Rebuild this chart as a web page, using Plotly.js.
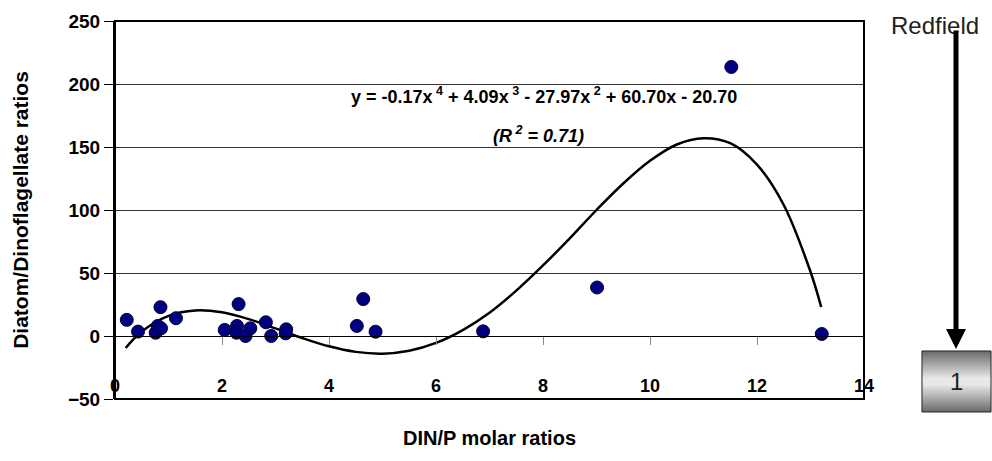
<!DOCTYPE html>
<html>
<head>
<meta charset="utf-8">
<script src="https://cdn.plot.ly/plotly-3.0.1.min.js"></script>
<style>html,body{margin:0;padding:0;background:#fff;}#chart{width:992px;height:461px;}</style>
</head>
<body>
<div id="chart"></div>
<script>
// Observed samples
const dinP = [0.22, 0.43, 0.76, 0.80, 0.86, 0.85, 1.14, 2.05, 2.31, 2.28, 2.27, 2.44, 2.53, 2.82, 2.92, 3.20, 3.19, 4.52, 4.64, 4.87, 6.88, 9.01, 11.52, 13.21];
const diatomDino = [12.8, 3.5, 2.6, 8.0, 6.1, 22.9, 14.1, 4.8, 25.3, 8.0, 2.6, 0.0, 6.1, 10.9, 0.0, 5.3, 2.1, 8.0, 29.3, 3.4, 3.7, 38.5, 213.5, 1.6];

// Polynomial trend line
const trendX = [0.2, 0.5, 1.0, 1.5, 2.0, 2.5, 3.0, 3.5, 4.0, 4.5, 5.0, 5.5, 6.0, 6.5, 7.0, 7.5, 8.0, 8.5, 9.0, 9.5, 10.0, 10.5, 11.0, 11.5, 12.0, 12.5, 13.0, 13.2];
const trendY = [-9.5, 3.5, 16.0, 20.3, 18.8, 13.4, 6.0, -1.6, -8.2, -12.6, -14.0, -11.7, -5.5, 4.7, 18.5, 36.0, 56.0, 77.5, 100.0, 121.0, 139.0, 152.0, 157.0, 153.0, 136.0, 104.0, 51.0, 23.0];

const yTicks = [-50, 0, 50, 100, 150, 200, 250];
const xTicks = [0, 2, 4, 6, 8, 10, 12, 14];
const equationText = 'y = -0.17x<sup> 4</sup> + 4.09x<sup> 3</sup> - 27.97x<sup> 2</sup> + 60.70x - 20.70';
const r2Text = '<i>(R<sup> 2</sup> = 0.71)</i>';
const redfieldLabel = 'Redfield';
const boxLabel = '1';

const FONT = 'Arial, "Liberation Sans", sans-serif';

const gradSvg = '<svg xmlns="http://www.w3.org/2000/svg" width="70" height="62" viewBox="0 0 70 62" preserveAspectRatio="none">' +
  '<defs><linearGradient id="g" x1="0" y1="0" x2="0" y2="1">' +
  '<stop offset="0" stop-color="#6a6a6a"/><stop offset="0.45" stop-color="#e8e8e8"/>' +
  '<stop offset="0.55" stop-color="#e8e8e8"/><stop offset="1" stop-color="#6a6a6a"/>' +
  '</linearGradient></defs><rect width="70" height="62" fill="url(#g)"/></svg>';

const traces = [
  {
    x: trendX, y: trendY, type: 'scatter', mode: 'lines',
    line: {color: '#000', width: 2.5, shape: 'spline', smoothing: 1},
    hoverinfo: 'skip', showlegend: false
  },
  {
    x: dinP, y: diatomDino, type: 'scatter', mode: 'markers',
    marker: {color: '#000080', size: 13, line: {color: '#00003a', width: 1}},
    showlegend: false
  },
  // carrier for the labelled x axis (no marks)
  {x: [], y: [], xaxis: 'x2', yaxis: 'y', type: 'scatter', mode: 'markers', showlegend: false, hoverinfo: 'skip'}
];

const layout = {
  width: 992, height: 461,
  margin: {l: 115, r: 128, t: 21, b: 62},
  paper_bgcolor: '#fff', plot_bgcolor: '#fff',
  font: {family: FONT, color: '#000'},
  showlegend: false,
  // axis line with tick marks at y = 0
  xaxis: {
    range: [0, 14], tickvals: xTicks,
    anchor: 'free', position: 1/6,
    showline: true, linecolor: '#000', linewidth: 1,
    ticks: 'outside', ticklen: 8, tickcolor: '#888', tickwidth: 1,
    showticklabels: false,
    showgrid: false, zeroline: false
  },
  // tick labels and title, drawn near the bottom of the frame
  xaxis2: {
    range: [0, 14], tickvals: xTicks, ticktext: xTicks.map(String),
    overlaying: 'x', anchor: 'free', position: 0.069, side: 'bottom',
    showline: false, ticks: '', showgrid: false, zeroline: false,
    tickfont: {family: FONT, size: 18, color: '#000', weight: 'bold'},
    title: {text: '<b>DIN/P molar ratios</b>', font: {family: FONT, size: 20, color: '#000'}, standoff: 36}
  },
  yaxis: {
    range: [-50, 250], tickvals: yTicks,
    showline: true, linecolor: '#000', linewidth: 2,
    ticks: 'outside', ticklen: 9, tickcolor: '#000', tickwidth: 1,
    tickfont: {family: FONT, size: 19, color: '#000', weight: 'bold'},
    showgrid: true, gridcolor: '#333', gridwidth: 1,
    zeroline: false,
    title: {text: '<b>Diatom/Dinoflagellate ratios</b>', font: {family: FONT, size: 21, color: '#000'}, standoff: 34}
  },
  shapes: [
    {type: 'rect', xref: 'paper', yref: 'paper', x0: 0, x1: 1, y0: 0, y1: 1, line: {color: '#000', width: 2}, layer: 'above'},
    {type: 'rect', xref: 'paper', yref: 'paper', x0: 1.0774, x1: 1.1696, y0: -0.0344, y1: 0.127, line: {color: '#222', width: 1}}
  ],
  images: [
    {source: 'data:image/svg+xml;charset=utf-8,' + encodeURIComponent(gradSvg),
     xref: 'paper', yref: 'paper', x: 1.0774, y: 0.127, sizex: 0.0922, sizey: 0.1614,
     xanchor: 'left', yanchor: 'top', sizing: 'stretch', layer: 'below'}
  ],
  annotations: [
    {x: 8.01, y: 191, xref: 'x', yref: 'y', xanchor: 'center', yanchor: 'middle',
     text: '<b>' + equationText + '</b>', showarrow: false,
     font: {family: FONT, size: 18, color: '#000'}},
    {x: 7.92, y: 160, xref: 'x', yref: 'y', xanchor: 'center', yanchor: 'middle',
     text: '<b>' + r2Text + '</b>', showarrow: false,
     font: {family: FONT, size: 18, color: '#000'}},
    {x: 1.0948, y: 0.9894, xref: 'paper', yref: 'paper', xanchor: 'center', yanchor: 'middle',
     text: redfieldLabel, showarrow: false,
     font: {family: FONT, size: 24, color: '#222'}},
    {x: 1.1228, y: 0.132, xref: 'paper', yref: 'paper', ax: 0, ay: -320, text: '', showarrow: true,
     arrowhead: 2, arrowsize: 0.8, arrowwidth: 5, arrowcolor: '#000', standoff: 0, startstandoff: 0},
    {x: 1.1234, y: 0.045, xref: 'paper', yref: 'paper', xanchor: 'center', yanchor: 'middle',
     text: boxLabel, showarrow: false,
     font: {family: FONT, size: 24, color: '#222'}}
  ]
};

Plotly.newPlot('chart', traces, layout, {displayModeBar: false, staticPlot: true});
</script>
</body>
</html>
